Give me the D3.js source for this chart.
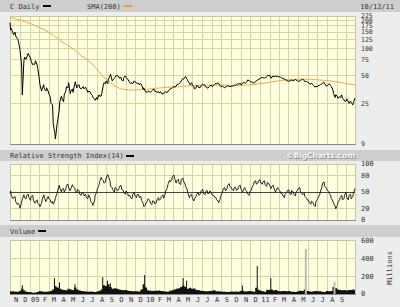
<!DOCTYPE html>
<html>
<head>
<meta charset="utf-8">
<script src="https://cdn.jsdelivr.net/npm/d3@7"></script>
<style>
  body { margin: 0; background: #ededed; }
  svg { display: block; }
  text { font-family: "DejaVu Sans Mono", monospace; font-size: 7px; fill: #333; }
</style>
</head>
<body>
<div id="chart"></div>
<script>
// ---- data ----
// weekly points: Oct 13 2008, every Friday Oct 17 2008 .. Oct 7 2011, Oct 12 2011
// mid-week points: every Wednesday Oct 15 2008 .. Oct 5 2011
const startDate = new Date(2008, 9, 13);
const endDate = new Date(2011, 9, 12);

// C close (split adjusted), Fridays
const price = [190,
  165, 140, 136,
  125, 95, 31, 80,
  80, 84, 72, 67,
  73, 60, 40, 36, 35.5,
  37, 32, 25, 15,
  10.2, 16, 26, 28,
  31, 38, 42, 34,
  33, 43, 39, 37, 37,
  36, 36, 34, 32,
  29, 27, 27.5, 30, 32,
  42, 44, 46, 52,
  45, 48, 50, 47,
  45, 48, 48, 45, 41,
  41, 43, 41, 40,
  40, 37, 33, 34,
  33, 35, 34, 33, 32.5,
  32, 32.5, 33, 34,
  36, 37, 37.5, 40,
  41, 44, 46, 49, 44,
  40, 40, 36, 39,
  37, 39, 40, 38,
  36.5, 39, 38, 40, 41,
  41, 38, 38, 37.5,
  39, 38, 38.5, 39.5,
  40, 40.5, 40, 42, 41.5,
  45, 44, 43, 41.5,
  44, 46, 47.5, 47.5, 47.3,
  50, 51, 48.5, 48.5,
  49, 48.5, 48.5, 47,
  45.5, 44, 44, 45,
  44.5, 45, 43.5, 44.5, 46,
  43, 43, 41, 41.5,
  39, 38.5, 39, 40,
  41.5, 41, 39, 41, 38.3,
  32, 31, 28.5, 29,
  28.5, 26.5, 28, 25, 25.6,
  25.5,
  28.5];

// C close, Wednesdays
const priceMid = [158, 148, 150,
  128, 104, 64, 72,
  76, 88, 78, 66,
  67, 66, 46, 34, 40,
  34, 34, 29, 24,
  12, 14.5, 21, 30,
  26, 34, 37, 32,
  36, 40, 37, 40, 36,
  38, 37.5, 33, 33.5,
  30.5, 28, 29, 31, 30,
  40, 41, 41, 50,
  44, 47, 51, 49,
  48, 44, 50, 46, 42,
  42, 44, 42, 41.5,
  41, 35.5, 34, 33.5,
  33.5, 34.5, 35.5, 33.5, 33.5,
  33.5, 31.5, 33.5, 33,
  35, 36.5, 38.5, 38.5,
  40.5, 42.5, 46.5, 48.5, 45.5,
  41.5, 42, 38, 37,
  38.5, 37.5, 40.5, 39.5,
  37.5, 38, 39.5, 39.5, 41.5,
  42, 39, 38.5, 37,
  38.5, 38.5, 38.5, 39,
  39.5, 41, 41.5, 41, 42,
  43, 44.5, 42.5, 42,
  43, 45, 46.5, 48, 47.5,
  49, 50.5, 47, 49.5,
  50, 49.5, 49, 46.5,
  46, 45, 43.5, 44.5,
  44, 45.5, 44, 44, 45.5,
  44.5, 43.5, 42, 40.5,
  40, 37.5, 38, 39.5,
  41, 42.5, 38.5, 40, 39,
  35, 29, 30, 29.5,
  31, 27.5, 26.5, 26, 26.5,
  24];

// SMA(200), Fridays
const sma = [217,
  215, 212, 209,
  206, 203, 199, 196,
  192, 188, 184, 180,
  176, 172, 167, 163, 159,
  154, 149, 144, 139,
  133, 128, 123, 117,
  114, 110, 106, 102,
  98, 94, 90, 86, 82,
  79, 76, 73, 69,
  66, 62, 58, 55, 51,
  48, 46, 44, 42,
  40, 38.5, 37.5, 36.5,
  36, 35.6, 35.3, 35.1, 35,
  35, 35, 35.1, 35.2,
  35.3, 35.4, 35.6, 35.8,
  36, 36.2, 36.4, 36.6, 36.8,
  37, 37.2, 37.4, 37.5,
  37.6, 37.7, 37.8, 37.9,
  38, 38.2, 38.4, 38.6, 38.8,
  39, 39.1, 39.2, 39.3,
  39.4, 39.5, 39.6, 39.6,
  39.6, 39.6, 39.6, 39.6, 39.6,
  39.6, 39.6, 39.5, 39.5,
  39.4, 39.4, 39.3, 39.3,
  39.3, 39.3, 39.3, 39.4, 39.5,
  39.7, 39.9, 40.1, 40.3,
  40.5, 40.8, 41.1, 41.4, 41.7,
  42.1, 42.5, 42.9, 43.3,
  43.7, 44.1, 44.4, 44.7,
  45, 45.2, 45.4, 45.6,
  45.7, 45.8, 45.9, 46, 46,
  46, 45.9, 45.8, 45.7,
  45.5, 45.3, 45.1, 44.9,
  44.7, 44.5, 44.3, 44.1, 43.9,
  43.5, 43.1, 42.7, 42.3,
  41.9, 41.5, 41.1, 40.7, 40.3,
  40,
  39.8];

// Relative Strength Index(14), Fridays
const rsi = [48, 44, 40, 33, 30, 21, 37, 40, 44, 40,
  42, 36, 32, 30, 24, 36, 40, 36, 38, 31,
  28, 40, 52, 57, 55, 50, 62, 58, 56, 60,
  52, 55, 46, 49, 43, 40, 45, 33, 26, 44,
  56, 68, 73, 66, 75, 78, 60, 54, 58, 52,
  60, 55, 49, 52, 43, 40, 46, 43, 45, 40,
  35, 24, 30, 38, 30, 34, 29, 36, 35, 42,
  39, 52, 64, 68, 78, 74, 70, 66, 72, 70,
  60, 48, 44, 40, 38, 46, 44, 52, 48, 50,
  47, 52, 45, 41, 36, 31, 44, 56, 52, 62,
  60, 55, 58, 53, 60, 56, 52, 55, 47, 50,
  58, 68, 64, 70, 66, 68, 63, 67, 62, 60,
  57, 53, 55, 48, 44, 46, 52, 48, 53, 46,
  50, 56, 50, 45, 42, 36, 31, 34, 27, 33,
  40, 50, 66, 60, 54, 48, 38, 30, 20, 32,
  40, 36, 45, 40, 44, 38, 48, 56];

// RSI, Wednesdays
const rsiMid = [52, 38, 42, 28, 26, 32, 45, 38, 46,
  35, 44, 30, 36, 27, 30, 45, 33, 42, 36,
  33, 34, 47, 62, 50, 56, 55, 64, 52, 63,
  57, 49, 52, 44, 48, 46, 38, 40, 30, 34,
  50, 62, 76, 70, 68, 81, 70, 58, 50, 56,
  55, 62, 53, 46, 48, 44, 38, 49, 40, 46,
  42, 30, 26, 34, 35, 28, 33, 31, 40, 38,
  45, 46, 58, 71, 72, 80, 66, 73, 63, 75,
  64, 54, 40, 46, 34, 42, 49, 47, 55, 45,
  53, 48, 49, 44, 40, 34, 38, 50, 58, 56,
  65, 58, 52, 58, 55, 62, 50, 58, 51, 44,
  53, 63, 70, 66, 72, 64, 70, 60, 65, 56,
  62, 50, 58, 52, 47, 40, 49, 54, 45, 50,
  43, 53, 58, 47, 48, 39, 35, 28, 31, 24,
  37, 45, 58, 68, 57, 51, 44, 34, 25, 26,
  36, 44, 38, 49, 36, 46, 42];

// Volume, millions (weekly)
const volume = [30,
  28, 30, 25,
  25, 35, 60, 40,
  25, 22, 20, 15,
  18, 22, 35, 28, 25,
  25, 28, 35, 50,
  90, 75, 60, 50,
  45, 42, 60, 50,
  45, 75, 50, 40, 35,
  32, 28, 26, 28,
  26, 24, 28, 36, 50,
  100, 90, 110, 80,
  60, 65, 60, 50,
  45, 42, 45, 38, 35,
  30, 32, 30, 28,
  50, 110, 75, 42,
  38, 35, 38, 36, 40,
  34, 30, 28, 26,
  38, 42, 50, 60,
  65, 80, 95, 78, 60,
  70, 60, 62, 46,
  42, 38, 34, 32,
  30, 34, 38, 42, 32,
  30, 28, 26, 26,
  24, 26, 28, 26,
  28, 26, 34, 38, 28,
  32, 34, 30, 26,
  70, 48, 38, 30, 26,
  48, 45, 52, 40,
  44, 35, 30, 33,
  35, 30, 33, 26,
  26, 24, 30, 38, 34,
  50, 35, 30, 26,
  32, 34, 30, 31,
  26, 24, 34, 30, 33,
  80, 68, 52, 46,
  42, 46, 40, 46, 44,
  50,
  46];

// single-day volume spikes
const spikeDates = ["2008-11-21", "2009-03-03", "2009-03-19", "2009-05-07", "2009-08-03",
  "2009-08-18", "2009-08-27", "2009-12-14", "2010-04-15", "2010-04-26", "2010-10-20",
  "2010-12-06", "2011-01-18", "2011-05-09", "2011-08-08"];
const spikeValues = [100, 180, 130, 110, 190, 150, 120, 215, 180, 150, 95, 316, 180, 510, 135];
const spikeLight = [false, false, false, false, false, false, false, false, false, false, false,
  false, false, true, true];

const priceTicks = [9, 25, 50, 75, 100, 125, 150, 175, 200, 225];
const rsiTicks = [0, 20, 50, 80, 100];
const volTicks = [0, 200, 400, 600];

// ---- chart ----
const parseDay = d3.timeParse("%Y-%m-%d");
const weekDates = [startDate].concat(d3.timeFriday.range(new Date(2008, 9, 17), new Date(2011, 9, 8)), [endDate]);
const midDates = d3.timeWednesday.range(new Date(2008, 9, 15), new Date(2011, 9, 6));

const rows = weekDates.map((d, i) => ({date: d, price: price[i], sma: sma[i], rsi: rsi[i], volume: volume[i]}));
const midRows = midDates.map((d, i) => ({date: d, price: priceMid[i], rsi: rsiMid[i]}));
const lineRows = rows.concat(midRows).sort((a, b) => a.date - b.date);
const spikes = spikeDates.map((d, i) => ({date: parseDay(d), value: spikeValues[i], light: spikeLight[i]}));

const left = 10, right = 355;
const x = d3.scaleTime().domain([startDate, endDate]).range([left, right]);
const yPrice = d3.scaleLog().domain([9, 225]).range([144, 16]);
const yRsi = d3.scaleLinear().domain([0, 100]).range([220, 164]);
const yVol = d3.scaleLinear().domain([0, 600]).range([294, 241]);

const monthStarts = d3.timeMonth.range(new Date(2008, 10, 1), new Date(2011, 9, 1));
const gridDates = d3.timeMonth.range(new Date(2008, 9, 1), new Date(2011, 9, 1)).map(d => d3.timeDay.offset(d, 15));

const svg = d3.select("#chart").append("svg")
    .attr("width", 400)
    .attr("height", 307);

svg.append("rect").attr("width", 400).attr("height", 307).attr("fill", "#ededed");

// label bars
function labelBar(y, h) {
    svg.append("rect").attr("x", 0).attr("y", y).attr("width", 400).attr("height", h).attr("fill", "#cecece");
}
labelBar(0, 12);
labelBar(150, 11);
labelBar(225, 12);

function swatch(x0, y0, color) {
    svg.append("rect").attr("x", x0).attr("y", y0).attr("width", 8).attr("height", 2).attr("fill", color);
}

svg.append("text").attr("x", 10).attr("y", 9).text("C Daily");
swatch(43, 5, "#000");
svg.append("text").attr("x", 87).attr("y", 9).text("SMA(200)");
swatch(124, 5, "#e8a030");
svg.append("text").attr("x", 394).attr("y", 9).attr("text-anchor", "end").text("10/12/11");

svg.append("text").attr("x", 10).attr("y", 158).text("Relative Strength Index(14)");
swatch(126, 155, "#000");
svg.append("text").attr("x", 10).attr("y", 234).text("Volume");
swatch(38, 230, "#000");

// copyright with shadow
svg.append("text").attr("x", 356).attr("y", 159).attr("text-anchor", "end")
    .style("font-family", "'DejaVu Sans', sans-serif").style("font-weight", "bold").style("font-size", "7.5px")
    .style("fill", "#8a8a8a").text("\u00a9BigCharts.com");
svg.append("text").attr("x", 355).attr("y", 158).attr("text-anchor", "end")
    .style("font-family", "'DejaVu Sans', sans-serif").style("font-weight", "bold").style("font-size", "7.5px")
    .style("fill", "#f6f6f6").text("\u00a9BigCharts.com");

// panel backgrounds and grids
function drawPanel(top, bottom, yScale, hLines) {
    let g = svg.append("g").attr("shape-rendering", "crispEdges");
    g.append("rect")
        .attr("x", left).attr("y", top)
        .attr("width", right - left).attr("height", bottom - top)
        .attr("fill", "#ffffe2");
    g.selectAll(".vgrid").data(gridDates).join("line")
        .attr("class", "vgrid")
        .attr("x1", d => x(d)).attr("x2", d => x(d))
        .attr("y1", top).attr("y2", bottom)
        .attr("stroke", "#d9d49c");
    g.selectAll(".hgrid").data(hLines).join("line")
        .attr("class", "hgrid")
        .attr("x1", left).attr("x2", right)
        .attr("y1", d => yScale(d)).attr("y2", d => yScale(d))
        .attr("stroke", "#d9d49c");
    g.append("rect")
        .attr("x", left).attr("y", top)
        .attr("width", right - left).attr("height", bottom - top)
        .attr("fill", "none").attr("stroke", "#cdc890");
    g.append("line")
        .attr("x1", left).attr("x2", right + 1)
        .attr("y1", bottom + 0.5).attr("y2", bottom + 0.5)
        .attr("stroke", "#8a8a8a");
    return g;
}

drawPanel(16, 144, yPrice, [25, 50, 75, 100, 125, 150, 175, 200]);
drawPanel(164, 220, yRsi, [20, 80]);
drawPanel(240, 294, yVol, [200, 400]);

// right axis labels
function axisLabels(ticks, yScale, size) {
    svg.append("g").selectAll("text").data(ticks).join("text")
        .attr("x", 361)
        .attr("y", d => yScale(d))
        .attr("dy", "0.35em")
        .style("font-size", size)
        .text(d => d);
}
axisLabels(priceTicks, yPrice, "6.5px");
axisLabels(rsiTicks, yRsi, "7px");
axisLabels(volTicks, yVol, "7px");

svg.append("text")
    .attr("transform", "translate(390,268) rotate(-90)")
    .attr("text-anchor", "middle")
    .attr("dy", "0.35em")
    .text("Millions");

// month labels
svg.append("g").selectAll("text").data(monthStarts).join("text")
    .attr("x", d => x(d))
    .attr("y", 302)
    .attr("text-anchor", "middle")
    .text(d => d.getMonth() === 0 ? d3.timeFormat("%y")(d) : d3.timeFormat("%b")(d).charAt(0));

// SMA
svg.append("path")
    .datum(rows)
    .attr("fill", "none")
    .attr("stroke", "#e8a54a")
    .attr("stroke-width", 1)
    .attr("d", d3.line().x(d => x(d.date)).y(d => yPrice(d.sma)).curve(d3.curveMonotoneX));

// price
svg.append("path")
    .datum(lineRows)
    .attr("fill", "none")
    .attr("stroke", "#000")
    .attr("stroke-width", 1)
    .attr("stroke-linejoin", "round")
    .attr("d", d3.line().x(d => x(d.date)).y(d => yPrice(d.price)));

// RSI
svg.append("line")
    .attr("x1", left).attr("x2", right)
    .attr("y1", Math.round(yRsi(50)) + 0.5).attr("y2", Math.round(yRsi(50)) + 0.5)
    .attr("stroke", "#444");
svg.append("path")
    .datum(lineRows)
    .attr("fill", "none")
    .attr("stroke", "#111")
    .attr("stroke-width", 0.9)
    .attr("d", d3.line().x(d => x(d.date)).y(d => yRsi(d.rsi)));

// volume
svg.append("path")
    .datum(rows)
    .attr("fill", "#111")
    .attr("d", d3.area().x(d => x(d.date)).y0(yVol(0)).y1(d => yVol(d.volume)).curve(d3.curveStep));

svg.append("g").selectAll("line").data(spikes).join("line")
    .attr("x1", d => x(d.date)).attr("x2", d => x(d.date))
    .attr("y1", yVol(0)).attr("y2", d => yVol(d.value))
    .attr("stroke", d => d.light ? "#bdbdb0" : "#111")
    .attr("stroke-width", d => d.light ? 2 : 1);
</script>
</body>
</html>
